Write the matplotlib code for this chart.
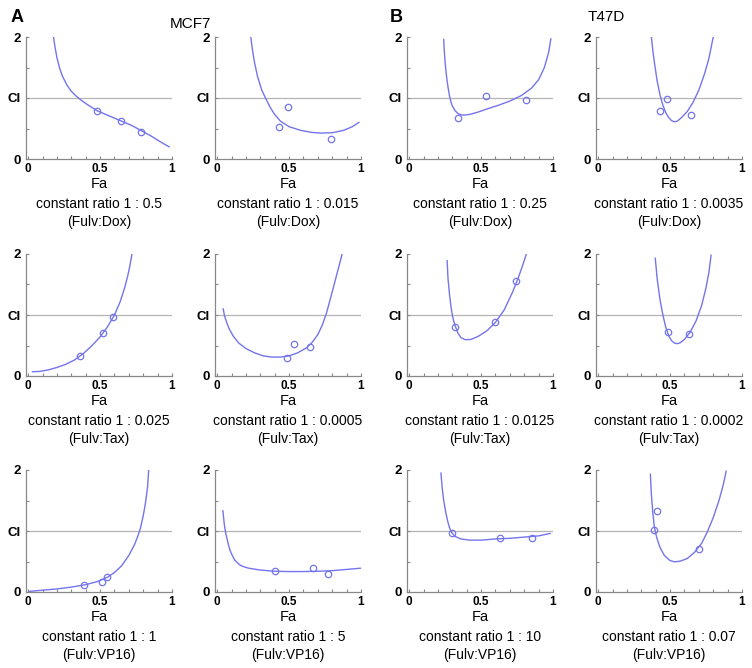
import matplotlib.pyplot as plt
from matplotlib.ticker import FixedLocator

plt.rcParams['font.family'] = ['Liberation Sans', 'DejaVu Sans']

# ---- data (Fa, CI) ----
# MCF7, Fulv:Dox 1 : 0.5
p1_curve_fa = [0.176, 0.185, 0.20, 0.22, 0.24, 0.27, 0.30, 0.33, 0.36, 0.40, 0.44, 0.48, 0.56, 0.65, 0.72, 0.79, 0.86, 0.92, 0.98]
p1_curve_ci = [2.0, 1.86, 1.66, 1.48, 1.35, 1.21, 1.11, 1.04, 0.98, 0.91, 0.85, 0.79, 0.71, 0.62, 0.55, 0.46, 0.37, 0.28, 0.2]
p1_pts_fa = [0.479, 0.648, 0.787]
p1_pts_ci = [0.785, 0.63, 0.447]

# MCF7, Fulv:Dox 1 : 0.015
p2_curve_fa = [0.234, 0.24, 0.25, 0.26, 0.28, 0.31, 0.336, 0.37, 0.40, 0.44, 0.50, 0.58, 0.66, 0.72, 0.80, 0.88, 0.94, 0.985]
p2_curve_ci = [2.0, 1.88, 1.72, 1.58, 1.36, 1.13, 1.0, 0.84, 0.73, 0.62, 0.53, 0.47, 0.435, 0.425, 0.43, 0.47, 0.53, 0.6]
p2_pts_fa = [0.43, 0.493, 0.789]
p2_pts_ci = [0.53, 0.845, 0.33]

# T47D, Fulv:Dox 1 : 0.25
p3_curve_fa = [0.24, 0.245, 0.25, 0.26, 0.27, 0.28, 0.29, 0.30, 0.32, 0.34, 0.36, 0.38, 0.42, 0.48, 0.54, 0.62, 0.70, 0.78, 0.85, 0.90, 0.94, 0.97, 0.985]
p3_curve_ci = [1.96, 1.75, 1.58, 1.35, 1.18, 1.04, 0.94, 0.87, 0.79, 0.745, 0.725, 0.72, 0.73, 0.77, 0.82, 0.88, 0.95, 1.04, 1.16, 1.3, 1.5, 1.75, 1.97]
p3_pts_fa = [0.338, 0.532, 0.815]
p3_pts_ci = [0.68, 1.035, 0.975]

# T47D, Fulv:Dox 1 : 0.0035
p4_curve_fa = [0.37, 0.38, 0.39, 0.41, 0.43, 0.45, 0.47, 0.49, 0.51, 0.53, 0.55, 0.58, 0.62, 0.66, 0.70, 0.74, 0.77, 0.80]
p4_curve_ci = [2.0, 1.78, 1.6, 1.28, 1.05, 0.88, 0.76, 0.68, 0.63, 0.61, 0.62, 0.68, 0.78, 0.93, 1.13, 1.4, 1.65, 2.0]
p4_pts_fa = [0.43, 0.477, 0.644]
p4_pts_ci = [0.795, 0.985, 0.72]

# MCF7, Fulv:Tax 1 : 0.025
p5_curve_fa = [0.03, 0.08, 0.14, 0.20, 0.26, 0.32, 0.38, 0.44, 0.50, 0.55, 0.60, 0.64, 0.67, 0.69, 0.705, 0.722]
p5_curve_ci = [0.07, 0.075, 0.1, 0.14, 0.19, 0.26, 0.36, 0.49, 0.64, 0.8, 1.0, 1.22, 1.44, 1.62, 1.78, 2.0]
p5_pts_fa = [0.36, 0.52, 0.593]
p5_pts_ci = [0.32, 0.71, 0.97]

# MCF7, Fulv:Tax 1 : 0.0005
p6_curve_fa = [0.042, 0.05, 0.06, 0.08, 0.11, 0.15, 0.20, 0.26, 0.32, 0.38, 0.44, 0.50, 0.56, 0.62, 0.66, 0.70, 0.73, 0.76, 0.80, 0.84, 0.869]
p6_curve_ci = [1.1, 1.0, 0.92, 0.79, 0.66, 0.54, 0.45, 0.38, 0.33, 0.31, 0.31, 0.33, 0.38, 0.46, 0.55, 0.68, 0.83, 1.03, 1.38, 1.74, 2.0]
p6_pts_fa = [0.484, 0.535, 0.645]
p6_pts_ci = [0.30, 0.52, 0.47]

# T47D, Fulv:Tax 1 : 0.0125
p7_curve_fa = [0.264, 0.27, 0.28, 0.29, 0.30, 0.31, 0.32, 0.34, 0.36, 0.39, 0.43, 0.48, 0.54, 0.60, 0.66, 0.72, 0.76, 0.79, 0.815]
p7_curve_ci = [1.89, 1.6, 1.35, 1.15, 1.0, 0.9, 0.82, 0.7, 0.63, 0.595, 0.6, 0.65, 0.74, 0.88, 1.08, 1.38, 1.62, 1.82, 2.0]
p7_pts_fa = [0.317, 0.595, 0.74]
p7_pts_ci = [0.80, 0.88, 1.56]

# T47D, Fulv:Tax 1 : 0.0002
p8_curve_fa = [0.397, 0.41, 0.43, 0.45, 0.47, 0.49, 0.51, 0.53, 0.55, 0.57, 0.60, 0.64, 0.68, 0.72, 0.75, 0.77, 0.785]
p8_curve_ci = [1.93, 1.6, 1.25, 1.0, 0.8, 0.66, 0.58, 0.54, 0.53, 0.545, 0.6, 0.72, 0.9, 1.16, 1.45, 1.7, 1.98]
p8_pts_fa = [0.484, 0.632]
p8_pts_ci = [0.72, 0.69]

# MCF7, Fulv:VP16 1 : 1
p9_curve_fa = [0.01, 0.10, 0.20, 0.30, 0.40, 0.48, 0.55, 0.60, 0.65, 0.70, 0.74, 0.76, 0.78, 0.80, 0.815, 0.83, 0.838]
p9_curve_ci = [0.01, 0.03, 0.05, 0.08, 0.12, 0.17, 0.24, 0.32, 0.43, 0.6, 0.78, 0.9, 1.04, 1.25, 1.45, 1.72, 2.0]
p9_pts_fa = [0.389, 0.514, 0.546]
p9_pts_ci = [0.12, 0.16, 0.25]

# MCF7, Fulv:VP16 1 : 5
p10_curve_fa = [0.04, 0.05, 0.06, 0.07, 0.08, 0.09, 0.105, 0.12, 0.14, 0.16, 0.19, 0.22, 0.30, 0.40, 0.50, 0.60, 0.70, 0.80, 0.90, 0.995]
p10_curve_ci = [1.33, 1.1, 0.96, 0.86, 0.76, 0.68, 0.6, 0.53, 0.48, 0.44, 0.41, 0.39, 0.36, 0.34, 0.335, 0.335, 0.34, 0.35, 0.37, 0.39]
p10_pts_fa = [0.402, 0.665, 0.772]
p10_pts_ci = [0.34, 0.40, 0.30]

# T47D, Fulv:VP16 1 : 10
p11_curve_fa = [0.221, 0.23, 0.24, 0.255, 0.27, 0.28, 0.29, 0.30, 0.32, 0.36, 0.42, 0.50, 0.60, 0.70, 0.80, 0.90, 0.98]
p11_curve_ci = [1.95, 1.7, 1.5, 1.3, 1.14, 1.06, 1.0, 0.96, 0.91, 0.87, 0.85, 0.85, 0.87, 0.88, 0.9, 0.92, 0.96]
p11_pts_fa = [0.295, 0.633, 0.853]
p11_pts_ci = [0.97, 0.89, 0.89]

# T47D, Fulv:VP16 1 : 0.07
p12_curve_fa = [0.363, 0.37, 0.38, 0.39, 0.40, 0.41, 0.43, 0.46, 0.50, 0.53, 0.57, 0.62, 0.67, 0.72, 0.76, 0.80, 0.84, 0.87, 0.89]
p12_curve_ci = [1.93, 1.6, 1.3, 1.08, 0.96, 0.87, 0.73, 0.6, 0.515, 0.495, 0.505, 0.55, 0.65, 0.8, 0.99, 1.22, 1.5, 1.76, 1.98]
p12_pts_fa = [0.386, 0.406, 0.699]
p12_pts_ci = [1.02, 1.33, 0.71]

ratios = ['1 : 0.5', '1 : 0.015', '1 : 0.25', '1 : 0.0035',
          '1 : 0.025', '1 : 0.0005', '1 : 0.0125', '1 : 0.0002',
          '1 : 1', '1 : 5', '1 : 10', '1 : 0.07']
combos = ['Fulv:Dox'] * 4 + ['Fulv:Tax'] * 4 + ['Fulv:VP16'] * 4

curves = [(p1_curve_fa, p1_curve_ci), (p2_curve_fa, p2_curve_ci), (p3_curve_fa, p3_curve_ci),
          (p4_curve_fa, p4_curve_ci), (p5_curve_fa, p5_curve_ci), (p6_curve_fa, p6_curve_ci),
          (p7_curve_fa, p7_curve_ci), (p8_curve_fa, p8_curve_ci), (p9_curve_fa, p9_curve_ci),
          (p10_curve_fa, p10_curve_ci), (p11_curve_fa, p11_curve_ci), (p12_curve_fa, p12_curve_ci)]
points = [(p1_pts_fa, p1_pts_ci), (p2_pts_fa, p2_pts_ci), (p3_pts_fa, p3_pts_ci),
          (p4_pts_fa, p4_pts_ci), (p5_pts_fa, p5_pts_ci), (p6_pts_fa, p6_pts_ci),
          (p7_pts_fa, p7_pts_ci), (p8_pts_fa, p8_pts_ci), (p9_pts_fa, p9_pts_ci),
          (p10_pts_fa, p10_pts_ci), (p11_pts_fa, p11_pts_ci), (p12_pts_fa, p12_pts_ci)]

W, H = 752, 668
fig = plt.figure(figsize=(W / 100, H / 100), dpi=100)

col_left = [26, 215, 407, 596]
row_top = [37, 254, 470]
ax_w, ax_h = 146, 122
blue = '#7474ec'

for i in range(12):
    r, c = divmod(i, 4)
    ax = fig.add_axes([col_left[c] / W, 1 - (row_top[r] + ax_h) / H, ax_w / W, ax_h / H])
    ax.axhline(1, color='#b4b4b4', lw=0.9, zorder=1)
    ax.plot(curves[i][0], curves[i][1], color=blue, lw=1.0, zorder=2)
    ax.plot(points[i][0], points[i][1], 'o', mfc='none', mec=blue, ms=4.6, mew=0.9, zorder=3)
    ax.set_xlim(-0.015, 1.0)
    ax.set_ylim(0, 2)
    for s in ['top', 'right']:
        ax.spines[s].set_visible(False)
    for s in ['left', 'bottom']:
        ax.spines[s].set_color('#888888')
        ax.spines[s].set_linewidth(0.9)
    ax.set_xticks([0, 0.5, 1])
    ax.set_xticklabels(['0', '0.5', '1'], fontsize=8.5, fontweight='bold')
    ax.set_yticks([0, 1, 2])
    ax.set_yticklabels(['0', 'CI', '2'], fontsize=9.5, fontweight='bold')
    ax.xaxis.set_minor_locator(FixedLocator([k / 10 for k in range(1, 10)]))
    ax.yaxis.set_minor_locator(FixedLocator([0.5, 1.5]))
    ax.tick_params(which='both', direction='in', color='#888888', length=2, width=0.8)
    ax.tick_params(axis='x', which='major', pad=3)
    ax.tick_params(axis='y', which='major', pad=4)
    ax.set_xlabel('Fa', fontsize=10.5, labelpad=1)
    ax.text(0.5, -0.37, 'constant ratio ' + ratios[i], transform=ax.transAxes,
            ha='center', va='center', fontsize=10)
    ax.text(0.5, -0.515, '(' + combos[i] + ')', transform=ax.transAxes,
            ha='center', va='center', fontsize=10)

fig.text(17 / W, 1 - 18 / H, 'A', fontsize=13, fontweight='bold', ha='center', va='center')
fig.text(396 / W, 1 - 18 / H, 'B', fontsize=13, fontweight='bold', ha='center', va='center')
fig.text(190 / W, 1 - 24 / H, 'MCF7', fontsize=11, ha='center', va='center')
fig.text(606 / W, 1 - 17 / H, 'T47D', fontsize=11, ha='center', va='center')

fig.savefig('out.png', dpi=100)
